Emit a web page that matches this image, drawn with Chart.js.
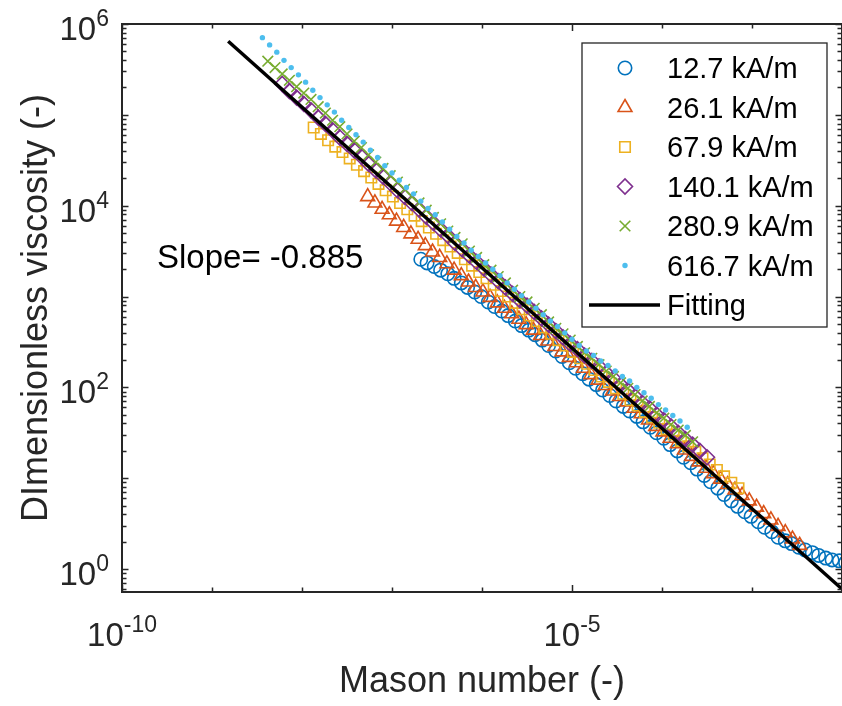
<!DOCTYPE html>
<html>
<head>
<meta charset="utf-8">
<title>Dimensionless viscosity vs Mason number</title>
<script src="https://cdn.jsdelivr.net/npm/chart.js@4.4.1/dist/chart.umd.min.js"></script>
<style>
  html, body { margin: 0; padding: 0; background: #fff; }
  #chart { display: block; }
</style>
</head>
<body>
<canvas id="chart" width="842" height="706"></canvas>
<script>
// values, kept as log10 of each quantity
var fieldLabels = ["12.7 kA/m", "26.1 kA/m", "67.9 kA/m", "140.1 kA/m", "280.9 kA/m", "616.7 kA/m"];

var logMa127 = [-6.68, -6.61, -6.53, -6.46, -6.38, -6.31, -6.23, -6.16, -6.08, -6.01,
  -5.93, -5.86, -5.78, -5.71, -5.63, -5.56, -5.48, -5.41, -5.33, -5.26,
  -5.18, -5.11, -5.03, -4.96, -4.88, -4.81, -4.73, -4.66, -4.58, -4.51,
  -4.43, -4.36, -4.28, -4.21, -4.13, -4.06, -3.98, -3.91, -3.83, -3.76,
  -3.68, -3.61, -3.53, -3.46, -3.38, -3.31, -3.23, -3.16, -3.08, -3.01,
  -2.93, -2.86, -2.78, -2.71, -2.63, -2.56, -2.48, -2.41, -2.33, -2.26,
  -2.18, -2.11, -2.03, -1.96];
var logEta127 = [3.41, 3.37, 3.33, 3.29, 3.25, 3.20, 3.15, 3.10, 3.05, 3.00,
  2.94, 2.89, 2.84, 2.79, 2.73, 2.68, 2.63, 2.58, 2.52, 2.46,
  2.40, 2.34, 2.27, 2.21, 2.15, 2.09, 2.03, 1.97, 1.91, 1.85,
  1.79, 1.74, 1.68, 1.62, 1.56, 1.50, 1.44, 1.37, 1.30, 1.23,
  1.17, 1.10, 1.03, 0.96, 0.89, 0.82, 0.75, 0.69, 0.63, 0.58,
  0.52, 0.46, 0.41, 0.35, 0.31, 0.28, 0.24, 0.21, 0.18, 0.15,
  0.12, 0.10, 0.09, 0.07];

var logMa261 = [-7.27, -7.19, -7.11, -7.03, -6.95, -6.87, -6.79, -6.71, -6.63, -6.55,
  -6.47, -6.39, -6.31, -6.23, -6.15, -6.07, -5.99, -5.91, -5.83, -5.75,
  -5.67, -5.59, -5.51, -5.43, -5.35, -5.27, -5.19, -5.11, -5.03, -4.95,
  -4.87, -4.79, -4.71, -4.63, -4.55, -4.47, -4.39, -4.31, -4.23, -4.15,
  -4.07, -3.99, -3.91, -3.83, -3.75, -3.67, -3.59, -3.51, -3.43, -3.35,
  -3.27, -3.19, -3.11, -3.03, -2.95, -2.87, -2.79, -2.71, -2.63, -2.55,
  -2.47];
var logEta261 = [4.10, 4.03, 3.96, 3.90, 3.83, 3.76, 3.69, 3.63, 3.56, 3.49,
  3.43, 3.36, 3.29, 3.23, 3.16, 3.10, 3.05, 2.99, 2.93, 2.87,
  2.81, 2.75, 2.69, 2.63, 2.57, 2.51, 2.45, 2.39, 2.33, 2.27,
  2.21, 2.14, 2.08, 2.02, 1.96, 1.90, 1.84, 1.77, 1.71, 1.64,
  1.57, 1.51, 1.44, 1.38, 1.31, 1.24, 1.18, 1.11, 1.05, 0.99,
  0.93, 0.87, 0.81, 0.75, 0.68, 0.61, 0.54, 0.47, 0.40, 0.33,
  0.26];

var logMa679 = [-7.87, -7.79, -7.71, -7.63, -7.55, -7.47, -7.39, -7.31, -7.23, -7.15,
  -7.07, -6.99, -6.91, -6.83, -6.75, -6.67, -6.59, -6.51, -6.43, -6.35,
  -6.27, -6.19, -6.11, -6.03, -5.95, -5.87, -5.79, -5.71, -5.63, -5.55,
  -5.47, -5.39, -5.31, -5.23, -5.15, -5.07, -4.99, -4.91, -4.83, -4.75,
  -4.67, -4.59, -4.51, -4.43, -4.35, -4.27, -4.19, -4.11, -4.03, -3.95,
  -3.87, -3.79, -3.71, -3.63, -3.55, -3.47, -3.39, -3.31, -3.23, -3.15];
var logEta679 = [4.86, 4.79, 4.72, 4.65, 4.59, 4.52, 4.45, 4.38, 4.31, 4.24,
  4.17, 4.10, 4.03, 3.96, 3.89, 3.83, 3.76, 3.69, 3.62, 3.55,
  3.48, 3.41, 3.34, 3.27, 3.20, 3.13, 3.06, 3.00, 2.93, 2.86,
  2.79, 2.73, 2.66, 2.59, 2.52, 2.46, 2.39, 2.32, 2.26, 2.19,
  2.12, 2.06, 1.99, 1.93, 1.86, 1.80, 1.73, 1.67, 1.61, 1.54,
  1.48, 1.41, 1.35, 1.29, 1.22, 1.15, 1.09, 1.02, 0.95, 0.89];

var logMa1401 = [-8.22, -8.14, -8.06, -7.98, -7.90, -7.82, -7.74, -7.66, -7.58, -7.50,
  -7.42, -7.34, -7.26, -7.18, -7.10, -7.02, -6.94, -6.86, -6.78, -6.70,
  -6.62, -6.54, -6.46, -6.38, -6.30, -6.22, -6.14, -6.06, -5.98, -5.90,
  -5.82, -5.74, -5.66, -5.58, -5.50, -5.42, -5.34, -5.26, -5.18, -5.10,
  -5.02, -4.94, -4.86, -4.78, -4.70, -4.62, -4.54, -4.46, -4.38, -4.30,
  -4.22, -4.14, -4.06, -3.98, -3.90, -3.82, -3.74, -3.66, -3.58, -3.50];
var logEta1401 = [5.34, 5.26, 5.19, 5.12, 5.05, 4.97, 4.90, 4.83, 4.75, 4.68,
  4.61, 4.54, 4.46, 4.39, 4.32, 4.25, 4.17, 4.10, 4.03, 3.96,
  3.88, 3.81, 3.74, 3.67, 3.59, 3.52, 3.45, 3.38, 3.31, 3.24,
  3.17, 3.10, 3.03, 2.96, 2.90, 2.83, 2.76, 2.69, 2.62, 2.55,
  2.48, 2.42, 2.35, 2.29, 2.23, 2.16, 2.10, 2.03, 1.97, 1.90,
  1.83, 1.77, 1.70, 1.64, 1.57, 1.50, 1.43, 1.37, 1.30, 1.23];

var logMa2809 = [-8.38, -8.30, -8.22, -8.14, -8.06, -7.98, -7.90, -7.82, -7.74, -7.66,
  -7.58, -7.50, -7.42, -7.34, -7.26, -7.18, -7.10, -7.02, -6.94, -6.86,
  -6.78, -6.70, -6.62, -6.54, -6.46, -6.38, -6.30, -6.22, -6.14, -6.06,
  -5.98, -5.90, -5.82, -5.74, -5.66, -5.58, -5.50, -5.42, -5.34, -5.26,
  -5.18, -5.10, -5.02, -4.94, -4.86, -4.78, -4.70, -4.62, -4.54, -4.46,
  -4.38, -4.30, -4.22, -4.14, -4.06, -3.98, -3.90, -3.82, -3.74, -3.66];
var logEta2809 = [5.59, 5.52, 5.45, 5.38, 5.31, 5.24, 5.17, 5.09, 5.02, 4.94,
  4.87, 4.79, 4.71, 4.64, 4.56, 4.48, 4.41, 4.33, 4.26, 4.18,
  4.10, 4.03, 3.95, 3.87, 3.80, 3.72, 3.65, 3.58, 3.50, 3.43,
  3.35, 3.29, 3.22, 3.15, 3.07, 3.00, 2.94, 2.87, 2.80, 2.72,
  2.65, 2.59, 2.52, 2.45, 2.38, 2.32, 2.25, 2.18, 2.12, 2.05,
  1.99, 1.92, 1.85, 1.79, 1.72, 1.66, 1.59, 1.53, 1.47, 1.40];

var logMa6167 = [-8.44, -8.36, -8.28, -8.20, -8.12, -8.04, -7.96, -7.88, -7.80, -7.72,
  -7.64, -7.56, -7.48, -7.40, -7.32, -7.24, -7.16, -7.08, -7.00, -6.92,
  -6.84, -6.76, -6.68, -6.60, -6.52, -6.44, -6.36, -6.28, -6.20, -6.12,
  -6.04, -5.96, -5.88, -5.80, -5.72, -5.64, -5.56, -5.48, -5.40, -5.32,
  -5.24, -5.16, -5.08, -5.00, -4.92, -4.84, -4.76, -4.68, -4.60, -4.52,
  -4.44, -4.36, -4.28, -4.20, -4.12, -4.04, -3.96, -3.88, -3.80, -3.72];
var logEta6167 = [5.85, 5.77, 5.69, 5.60, 5.52, 5.44, 5.36, 5.27, 5.19, 5.11,
  5.03, 4.94, 4.86, 4.78, 4.70, 4.61, 4.53, 4.44, 4.36, 4.28,
  4.20, 4.13, 4.05, 3.97, 3.90, 3.82, 3.74, 3.66, 3.59, 3.51,
  3.44, 3.37, 3.30, 3.23, 3.15, 3.08, 3.01, 2.94, 2.87, 2.80,
  2.73, 2.67, 2.60, 2.53, 2.46, 2.40, 2.35, 2.29, 2.24, 2.18,
  2.12, 2.07, 2.00, 1.94, 1.88, 1.81, 1.75, 1.69, 1.63, 1.56];

// fitted power law, end points of the drawn line
var logMaFit = [-8.82, -2.0];
var logEtaFit = [5.81, -0.22];
var slopeText = "Slope= -0.885";

// axis ticks (log10 exponents)
var xLabelExps = [-10, -5];
var yLabelExps = [0, 2, 4, 6];

var colors = ["#0072BD", "#D95319", "#EDB120", "#7E2F8E", "#77AC30", "#4DBEEE"];
var FONT = '"Liberation Sans", Arial, Helvetica, sans-serif';
var AXIS = "#262626";

function toPoints(logX, logY) {
  return logX.map(function (lx, i) {
    return { x: Math.pow(10, lx), y: Math.pow(10, logY[i]) };
  });
}

var markerStyles = [
  { pointStyle: "circle", pointRadius: 6.7, fill: false },
  { pointStyle: "triangle", pointRadius: 8, fill: false },
  { pointStyle: "rect", pointRadius: 7.4, fill: false },
  { pointStyle: "rectRot", pointRadius: 7.5, fill: false },
  { pointStyle: "crossRot", pointRadius: 7.5, fill: false },
  { pointStyle: "circle", pointRadius: 2.7, fill: true },
];

var seriesData = [
  toPoints(logMa127, logEta127),
  toPoints(logMa261, logEta261),
  toPoints(logMa679, logEta679),
  toPoints(logMa1401, logEta1401),
  toPoints(logMa2809, logEta2809),
  toPoints(logMa6167, logEta6167),
];

var datasets = seriesData.map(function (pts, i) {
  var m = markerStyles[i];
  return {
    label: fieldLabels[i],
    data: pts,
    showLine: false,
    pointStyle: m.pointStyle,
    pointRadius: m.pointRadius,
    pointHoverRadius: m.pointRadius,
    pointBorderWidth: m.fill ? 0 : 1.6,
    pointBorderColor: colors[i],
    pointBackgroundColor: m.fill ? colors[i] : "rgba(0,0,0,0)",
    order: 8 - i,
  };
});

datasets.push({
  label: "Fitting",
  data: toPoints(logMaFit, logEtaFit),
  showLine: true,
  borderColor: "#000000",
  borderWidth: 3.5,
  pointRadius: 0,
  order: 1,
});

function drawPow(ctx, exp, x, baseY, align) {
  var base = "10";
  var sup = String(exp);
  ctx.font = "33px " + FONT;
  var wb = ctx.measureText(base).width;
  ctx.font = "23px " + FONT;
  var ws = ctx.measureText(sup).width;
  var left = align === "right" ? x - wb - ws : x - (wb + ws) / 2;
  ctx.textAlign = "left";
  ctx.textBaseline = "alphabetic";
  ctx.font = "33px " + FONT;
  ctx.fillText(base, left, baseY);
  ctx.font = "23px " + FONT;
  ctx.fillText(sup, left + wb, baseY - 14);
}

var axesFrame = {
  id: "axesFrame",
  afterDatasetsDraw: function (chart) {
    var ctx = chart.ctx;
    var a = chart.chartArea;
    var xs = chart.scales.x;
    var ys = chart.scales.y;
    ctx.save();

    // y ticks on left and right, pointing inwards
    ctx.strokeStyle = AXIS;
    ctx.lineWidth = 1.5;
    ctx.beginPath();
    for (var n = -1; n <= 6; n++) {
      for (var m = 1; m <= 9; m++) {
        var v = m * Math.pow(10, n);
        if (v < ys.min || v > ys.max) continue;
        var py = Math.round(ys.getPixelForValue(v)) + 0.5;
        var len = m === 1 ? 6.5 : 4.5;
        ctx.moveTo(a.left, py);
        ctx.lineTo(a.left + len, py);
        ctx.moveTo(a.right, py);
        ctx.lineTo(a.right - len, py);
      }
    }
    // x ticks on bottom and top
    for (var e = -10; e <= -2; e++) {
      var px = Math.round(xs.getPixelForValue(Math.pow(10, e))) + 0.5;
      var tl = xLabelExps.indexOf(e) >= 0 ? 7 : 4.5;
      ctx.moveTo(px, a.bottom);
      ctx.lineTo(px, a.bottom - tl);
      ctx.moveTo(px, a.top);
      ctx.lineTo(px, a.top + tl);
    }
    ctx.stroke();

    // axes box
    ctx.lineWidth = 2;
    ctx.strokeRect(a.left, a.top, a.right - a.left, a.bottom - a.top);

    // tick labels
    ctx.fillStyle = AXIS;
    xLabelExps.forEach(function (e) {
      drawPow(ctx, e, xs.getPixelForValue(Math.pow(10, e)), a.bottom + 54, "center");
    });
    yLabelExps.forEach(function (e) {
      drawPow(ctx, e, a.left - 13, ys.getPixelForValue(Math.pow(10, e)) + 16, "right");
    });

    // axis titles
    ctx.font = "36px " + FONT;
    ctx.textAlign = "center";
    ctx.textBaseline = "alphabetic";
    ctx.fillText("Mason number (-)", (a.left + a.right) / 2, 692);
    ctx.save();
    ctx.translate(47, (a.top + a.bottom) / 2);
    ctx.rotate(-Math.PI / 2);
    ctx.font = "36px " + FONT;
    ctx.fillText("DImensionless viscosity (-)", 0, 0);
    ctx.restore();

    // slope annotation
    ctx.fillStyle = "#000000";
    ctx.font = "33px " + FONT;
    ctx.textAlign = "left";
    ctx.fillText(slopeText, 157, 268);

    // legend
    var lx = 582, ly = 43, lw = 245, lh = 284;
    ctx.fillStyle = "#ffffff";
    ctx.fillRect(lx, ly, lw, lh);
    ctx.strokeStyle = AXIS;
    ctx.lineWidth = 1.3;
    ctx.strokeRect(lx, ly, lw, lh);
    ctx.font = "29px " + FONT;
    for (var i = 0; i < 7; i++) {
      var cy = 68 + 39.5 * i;
      if (i < 6) {
        var ms = markerStyles[i];
        ctx.strokeStyle = colors[i];
        ctx.fillStyle = ms.fill ? colors[i] : "rgba(0,0,0,0)";
        ctx.lineWidth = ms.fill ? 0 : 1.6;
        Chart.helpers.drawPoint(ctx, {
          pointStyle: ms.pointStyle,
          radius: ms.pointRadius,
          rotation: 0,
          borderWidth: ms.fill ? 0 : 1.6,
        }, 625, cy);
      } else {
        ctx.strokeStyle = "#000000";
        ctx.lineWidth = 3.5;
        ctx.beginPath();
        ctx.moveTo(589, cy);
        ctx.lineTo(660, cy);
        ctx.stroke();
      }
      ctx.fillStyle = "#000000";
      ctx.fillText(i < 6 ? fieldLabels[i] : "Fitting", 667, cy + 10);
    }
    ctx.restore();
  },
};

new Chart(document.getElementById("chart"), {
  type: "scatter",
  data: { datasets: datasets },
  options: {
    responsive: false,
    animation: false,
    events: [],
    devicePixelRatio: 1,
    layout: {
      autoPadding: false,
      padding: { left: 122, top: 24, right: 0, bottom: 114 },
    },
    plugins: {
      legend: { display: false },
      tooltip: { enabled: false },
    },
    scales: {
      x: {
        type: "logarithmic",
        display: false,
        min: 1e-10,
        max: 1e-2,
      },
      y: {
        type: "logarithmic",
        display: false,
        min: Math.pow(10, -0.253),
        max: 1e6,
      },
    },
  },
  plugins: [axesFrame],
});
</script>
</body>
</html>
